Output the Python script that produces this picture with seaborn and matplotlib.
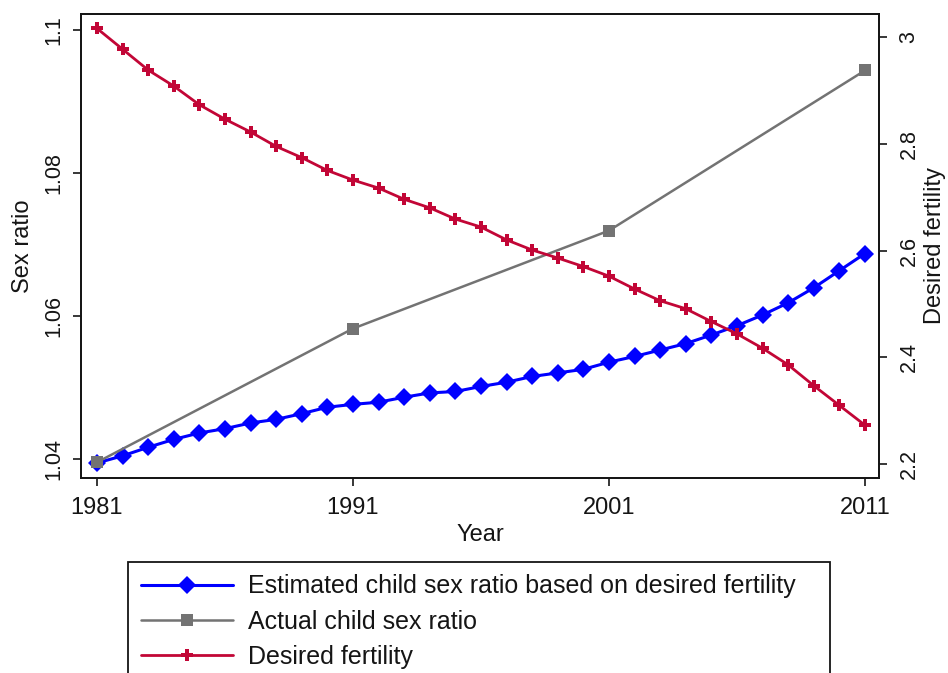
import matplotlib
matplotlib.use("Agg")
import matplotlib.pyplot as plt
import seaborn as sns
import pandas as pd
from matplotlib.lines import Line2D

# ---------------- data ----------------
years = list(range(1981, 2012))
estimated_csr = [1.0394, 1.0404, 1.0416, 1.0427, 1.0436, 1.0442, 1.0450, 1.0455,
                 1.0463, 1.0472, 1.0476, 1.0479, 1.0486, 1.0492, 1.0494, 1.0501,
                 1.0507, 1.0515, 1.0520, 1.0525, 1.0535, 1.0543, 1.0552, 1.0561,
                 1.0573, 1.0586, 1.0601, 1.0618, 1.0639, 1.0663, 1.0687]
actual_years = [1981, 1991, 2001, 2011]
actual_csr = [1.0395, 1.0582, 1.0719, 1.0943]
desired_fertility = [3.016, 2.977, 2.938, 2.908, 2.873, 2.846, 2.822, 2.795,
                     2.774, 2.750, 2.732, 2.717, 2.696, 2.680, 2.659, 2.644,
                     2.620, 2.601, 2.586, 2.570, 2.552, 2.528, 2.506, 2.491,
                     2.467, 2.444, 2.417, 2.386, 2.347, 2.310, 2.273]

x_ticks = [1981, 1991, 2001, 2011]
left_ticks = [1.04, 1.06, 1.08, 1.10]
left_ticklabels = ["1.04", "1.06", "1.08", "1.1"]
right_ticks = [2.2, 2.4, 2.6, 2.8, 3.0]
right_ticklabels = ["2.2", "2.4", "2.6", "2.8", "3"]

labels = ["Estimated child sex ratio based on desired fertility",
          "Actual child sex ratio",
          "Desired fertility"]

# ---------------- style ----------------
sns.set_style("white")
plt.rcParams["font.family"] = ["Liberation Sans", "DejaVu Sans"]
TXT = "#151515"
BLUE = "#0000FF"
GRAY = "#737373"
RED = "#C20636"

fig = plt.figure(figsize=(9.48, 6.73), dpi=100)
ax = fig.add_axes([81 / 948, 1 - 478 / 673, (879 - 81) / 948, (478 - 14) / 673])
ax2 = ax.twinx()

df_est = pd.DataFrame({"year": years, "value": estimated_csr})
df_act = pd.DataFrame({"year": actual_years, "value": actual_csr})
df_fert = pd.DataFrame({"year": years, "value": desired_fertility})

sns.lineplot(data=df_est, x="year", y="value", ax=ax, color=BLUE, linewidth=2.2,
             marker="D", markersize=9, markeredgewidth=0, legend=False)
sns.lineplot(data=df_act, x="year", y="value", ax=ax, color=GRAY, linewidth=1.8,
             marker="s", markersize=8.5, markeredgewidth=0, legend=False)
sns.lineplot(data=df_fert, x="year", y="value", ax=ax2, color=RED, linewidth=2.0,
             marker="P", markersize=8, markeredgewidth=0, legend=False)

# axes limits
ax.set_xlim(1980.375, 2011.55)
ax.set_ylim(1.0373, 1.1022)
ax2.set_ylim(2.174, 3.043)

# ticks
ax.set_xticks(x_ticks)
ax.set_xticklabels([str(t) for t in x_ticks])
ax.set_yticks(left_ticks)
ax.set_yticklabels(left_ticklabels, rotation=90, va="center")
ax2.set_yticks(right_ticks)
ax2.set_yticklabels(right_ticklabels, rotation=90, va="center")

ax.tick_params(axis="x", direction="out", length=6, width=1.2, color=TXT,
               labelsize=17, labelcolor=TXT, pad=8, bottom=True)
ax.tick_params(axis="y", direction="out", length=6, width=1.2, color=TXT,
               labelsize=15.5, labelcolor=TXT, pad=6, left=True)
ax2.tick_params(axis="y", direction="out", length=6, width=1.2, color=TXT,
                labelsize=15.5, labelcolor=TXT, pad=8, right=True)

ax.set_xlabel("Year", fontsize=17, color=TXT, labelpad=3)
ax.set_ylabel("Sex ratio", fontsize=17, color=TXT, labelpad=7)
ax2.set_ylabel("Desired fertility", fontsize=17, color=TXT, labelpad=3,
               rotation=90)

for a in (ax, ax2):
    for s in a.spines.values():
        s.set_visible(True)
        s.set_color(TXT)
        s.set_linewidth(1.3)
    a.grid(False)

# legend
handles = [
    Line2D([], [], color=BLUE, linewidth=2.2, marker="D", markersize=9,
           markeredgewidth=0),
    Line2D([], [], color=GRAY, linewidth=1.8, marker="s", markersize=8.5,
           markeredgewidth=0),
    Line2D([], [], color=RED, linewidth=2.0, marker="P", markersize=8,
           markeredgewidth=0),
]
leg_top = 1 - 562 / 673
leg = fig.legend(handles, labels, loc="upper left",
                 bbox_to_anchor=(128 / 948, 0, (830 - 128) / 948, leg_top),
                 mode="expand",
                 fontsize=18, frameon=True, fancybox=False, framealpha=1,
                 edgecolor=TXT, handlelength=3.7, handletextpad=0.6,
                 labelspacing=0.45, borderpad=0.5, borderaxespad=0)
leg.get_frame().set_linewidth(1.3)
for t in leg.get_texts():
    t.set_color(TXT)

fig.savefig("out.png", dpi=100)
